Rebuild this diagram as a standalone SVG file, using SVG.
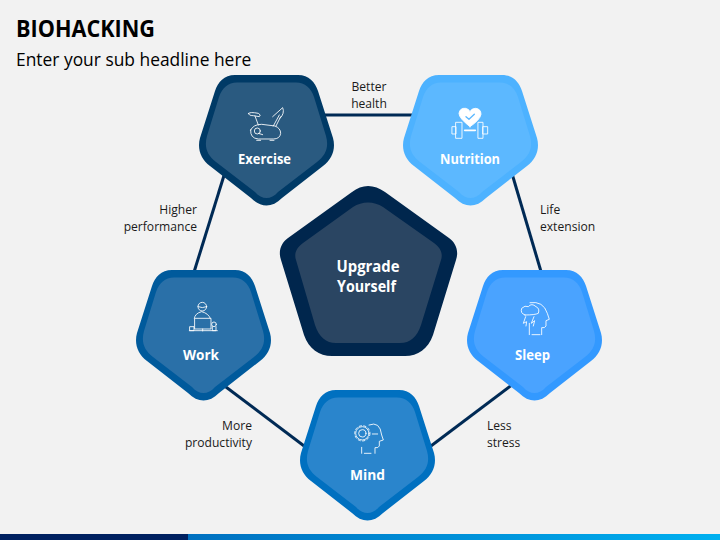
<svg xmlns="http://www.w3.org/2000/svg" width="720" height="540" viewBox="0 0 720 540">
<style>
text{font-family:"Open Sans","Liberation Sans",sans-serif}
.title{font-size:23px;font-weight:700;fill:#000}
.sub{font-size:17.400px;fill:#000}
.lab{font-size:12.100px;fill:#1a1a1a}
.name{font-size:14.500px;font-weight:700;fill:#fff;text-anchor:middle}
.mid{font-size:16px;font-weight:700;fill:#fff;text-anchor:middle}
.e{text-anchor:end}.m{text-anchor:middle}
.ic{fill:none;stroke:#fff;stroke-width:2.600;stroke-linecap:round;stroke-linejoin:round}
#connectors line{stroke:#002a55;stroke-width:3}
</style>
<defs>
<path id="o" d="M36,0 L99,0 C110,0 116,7 119,16 L134,63 C137,74 133,84 124,91 L83,123 C73,133 62,133 52,123 L11,91 C2,84 -2,74 1,63 L16,16 C19,7 25,0 36,0 Z"/>
<path id="i" d="M38,7.500 L97,7.500 C106,7.500 112,13 115,22 L127,61 C130,72 127,80 118,87 L79,117 C72,125 63,125 56,117 L17,87 C8,80 5,72 8,61 L20,22 C23,13 29,7.500 38,7.500 Z"/>
<linearGradient id="g"><stop offset="0" stop-color="#0070c0"/><stop offset="1" stop-color="#00b0f0"/></linearGradient>
</defs>
<rect width="720" height="540" fill="#f2f2f2"/>
<rect y="534" width="188" height="6" fill="#002060"/>
<rect x="188" y="534" width="532" height="6" fill="url(#g)"/>
<text class="title" x="16" y="36.500" textLength="139" lengthAdjust="spacingAndGlyphs">BIOHACKING</text>
<text class="sub" x="16" y="66">Enter your sub headline here</text>
<g id="connectors">
<line x1="266" y1="115" x2="470" y2="115"/>
<line x1="235" y1="140" x2="190" y2="285"/>
<line x1="505" y1="150" x2="545" y2="285"/>
<line x1="210" y1="375" x2="320" y2="458"/>
<line x1="525" y1="375" x2="415" y2="458"/>
</g>
<g id="center">
<path d="M352,192 C362,184 374,184 385,192 L449,238 C456,243 459,251 456,260 L433,335 C428,349 418,356 405,356 L332,356 C319,356 309,349 304,335 L281,260 C278,251 281,243 288,238 Z" fill="#00264d"/>
<path d="M353,207 C362,201 374,201 383,207 L434,243 C441,248 443,254 441,260 L421,325 C417,337 410,343 400,343 L336,343 C326,343 319,337 315,325 L296,260 C294,254 296,248 303,243 Z" fill="#2a4562"/>
<text class="mid" x="368" y="272" textLength="63" lengthAdjust="spacingAndGlyphs">Upgrade</text>
<text class="mid" x="366.500" y="292" textLength="59" lengthAdjust="spacingAndGlyphs">Yourself</text>
</g>
<g id="exercise">
<use href="#o" x="199" y="75" fill="#003a66"/><use href="#i" x="199" y="75" fill="#2a5a80"/>
<g class="ic" transform="translate(190,65) scale(.3333)">
<path d="M182,195Q190,178 215,178L255,183Q272,190 272,205Q270,222 250,222L205,222Q180,220 182,195Z"/>
<circle cx="202" cy="198" r="9"/><path d="M205,205L218,209"/>
<path d="M176,145Q180,140 205,145Q215,150 208,155L190,152Q175,152 176,145Z"/><path d="M195,153L205,180"/>
<path d="M250,183L268,150M258,183L272,155M248,155L278,128Q285,145 270,160M200,226H212M240,226H252"/>
</g>
<text class="name" x="264.500" y="164" textLength="53" lengthAdjust="spacingAndGlyphs">Exercise</text>
</g>
<g id="nutrition">
<use href="#o" x="403" y="75" fill="#4db2ff"/><use href="#i" x="403" y="75" fill="#5cb8ff"/>
<g class="ic" transform="translate(395,65) scale(.3333)">
<path fill="#fff" d="M225,185Q192,160 192,145Q195,128 212,130Q222,132 225,140Q230,130 242,130Q258,132 258,148Q255,165 225,185Z"/>
<path stroke="#5cb8ff" stroke-width="4" d="M213,155L222,163L238,148"/>
<rect x="172" y="185" width="11" height="22"/><rect x="183" y="172" width="18" height="48"/>
<rect x="250" y="172" width="14" height="48"/><rect x="264" y="185" width="14" height="22"/>
<path stroke-width="5" d="M209,196H241"/>
</g>
<text class="name" x="470" y="164" textLength="60" lengthAdjust="spacingAndGlyphs">Nutrition</text>
</g>
<g id="work">
<use href="#o" x="136" y="270" fill="#005a9c"/><use href="#i" x="136" y="270" fill="#2a70a8"/>
<g class="ic" transform="translate(130,260) scale(.3333)">
<circle cx="217" cy="140" r="13"/><path d="M204,140Q217,146 230,140"/>
<path d="M193,175Q195,160 215,155Q235,160 241,175"/>
<rect x="195" y="175" width="48" height="32"/>
<path d="M218,207V213M178,212H262"/><rect x="180" y="200" width="12" height="12"/>
<circle cx="252" cy="193" r="7"/><path d="M247,200V212H258V200"/>
</g>
<text class="name" x="201" y="359.500" textLength="36" lengthAdjust="spacingAndGlyphs">Work</text>
</g>
<g id="sleep">
<use href="#o" x="467" y="270" fill="#3399ff"/><use href="#i" x="467" y="270" fill="#4aa3ff"/>
<g class="ic" transform="translate(460,260) scale(.3333)">
<path d="M210,128Q250,122 262,160L268,178L258,182V198Q255,205 245,203V224M216,224H240M208,190V224"/>
<path d="M195,165Q180,160 185,145Q195,135 205,140Q215,128 228,140Q240,145 235,160Q225,165 195,165Z"/>
<path d="M197,170L190,190L200,185L198,198M222,170L214,190L224,182L220,198"/>
</g>
<text class="name" x="532.500" y="359.500" textLength="35" lengthAdjust="spacingAndGlyphs">Sleep</text>
</g>
<g id="mind">
<use href="#o" x="300" y="390" fill="#0070c0"/><use href="#i" x="300" y="390" fill="#2a85cc"/>
<g class="ic" transform="translate(295,380) scale(.3333)">
<path d="M222,135Q255,122 260,165L265,180L253,184V198Q250,205 240,203V220M200,220V202M208,220H228M232,162H248"/>
<circle cx="202" cy="160" r="20"/><circle cx="202" cy="160" r="23" stroke-dasharray="7 7"/><circle cx="202" cy="160" r="11"/>
</g>
<text class="name" x="367.500" y="479.500" textLength="35" lengthAdjust="spacingAndGlyphs">Mind</text>
</g>
<g id="labels">
<text class="lab m" x="369" y="91">Better</text><text class="lab m" x="369" y="108">health</text>
<text class="lab e" x="197" y="214">Higher</text><text class="lab e" x="197" y="231">performance</text>
<text class="lab" x="540" y="214">Life</text><text class="lab" x="540" y="231">extension</text>
<text class="lab e" x="252" y="430">More</text><text class="lab e" x="252" y="447">productivity</text>
<text class="lab" x="487" y="430">Less</text><text class="lab" x="487" y="447">stress</text>
</g>
</svg>
